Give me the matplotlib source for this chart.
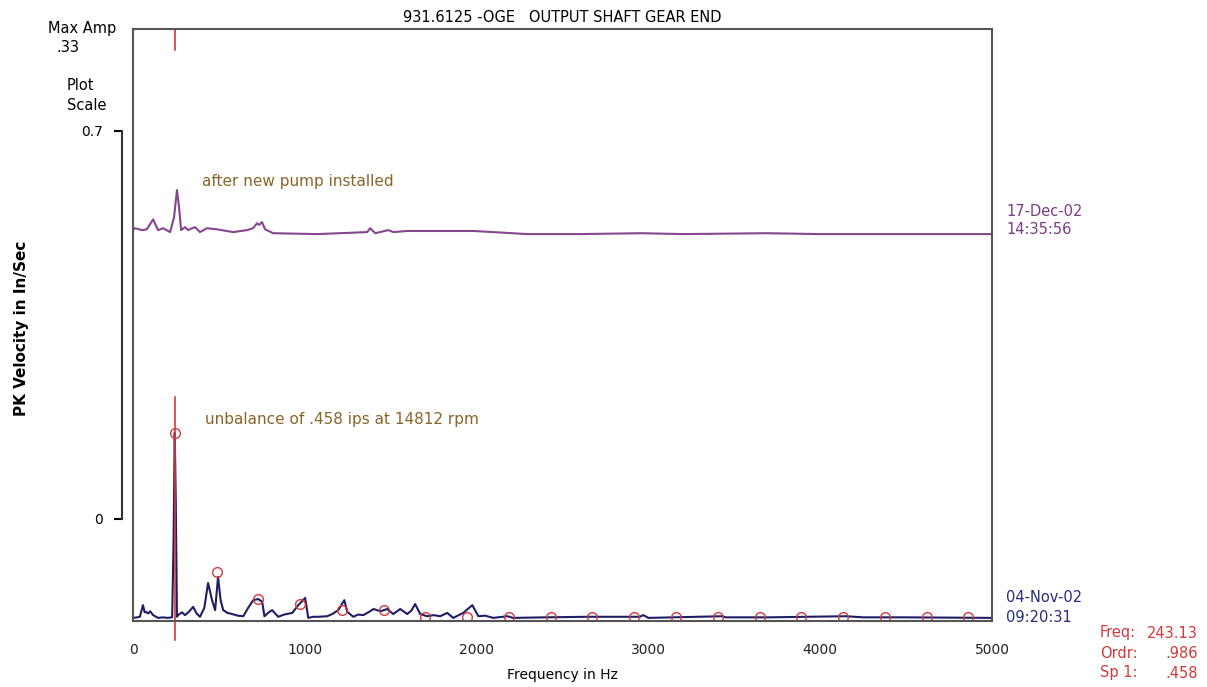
import numpy as np
import matplotlib
matplotlib.use("Agg")
import matplotlib.pyplot as plt

plt.rcParams['font.family'] = ['DejaVu Sans']

# spectrum taken 04-Nov-02 (before) -- frequency in Hz, PK velocity in in/sec
freq_before = [0, 25, 40, 58, 68, 75, 88, 100, 117, 146, 175, 200, 228, 236, 243, 249, 256, 262,
               285, 303, 325, 350, 370, 390, 415, 437, 460, 478, 495, 510, 525, 550, 577, 610,
               642, 670, 700, 729, 752, 765, 790, 810, 845, 880, 927, 962, 1002, 1020, 1050,
               1080, 1130, 1160, 1195, 1230, 1247, 1282, 1310, 1340, 1370, 1400, 1440, 1480,
               1515, 1555, 1596, 1620, 1642, 1672, 1712, 1750, 1788, 1829, 1864, 1922, 1975,
               2010, 2050, 2097, 2178, 2213, 2400, 2650, 2950, 2970, 3000, 3430, 3450, 3700,
               4150, 4250, 4500, 5000]
amp_before = [0.002, 0.003, 0.004, 0.025, 0.012, 0.013, 0.010, 0.014, 0.007, 0.002, 0.003,
              0.002, 0.003, 0.14, 0.336, 0.21, 0.004, 0.007, 0.012, 0.007, 0.013, 0.022, 0.010,
              0.004, 0.020, 0.065, 0.034, 0.016, 0.076, 0.034, 0.016, 0.011, 0.009, 0.006,
              0.005, 0.020, 0.034, 0.036, 0.031, 0.005, 0.012, 0.016, 0.004, 0.008, 0.011,
              0.025, 0.038, 0.002, 0.004, 0.004, 0.005, 0.009, 0.016, 0.034, 0.013, 0.004,
              0.008, 0.007, 0.012, 0.018, 0.014, 0.018, 0.009, 0.018, 0.009, 0.015, 0.027,
              0.009, 0.005, 0.007, 0.005, 0.011, 0.002, 0.011, 0.025, 0.005, 0.006, 0.002,
              0.005, 0.002, 0.003, 0.004, 0.004, 0.007, 0.002, 0.005, 0.003, 0.003, 0.005,
              0.003, 0.003, 0.002]

# spectrum taken 17-Dec-02 (after new pump installed)
freq_after = [0, 12, 52, 80, 117, 146, 175, 216, 239, 256, 268, 280, 303, 320, 361, 390, 431,
              489, 583, 664, 699, 722, 734, 751, 769, 816, 1072, 1363, 1380, 1410, 1486, 1515,
              1596, 1742, 1981, 2097, 2295, 2600, 2960, 3200, 3690, 4000, 5000]
amp_after = [0.0086, 0.012, 0.0086, 0.010, 0.028, 0.0086, 0.012, 0.005, 0.032, 0.081, 0.050,
             0.0086, 0.014, 0.0086, 0.014, 0.005, 0.012, 0.010, 0.005, 0.0086, 0.012, 0.021,
             0.018, 0.023, 0.010, 0.003, 0.0014, 0.005, 0.012, 0.003, 0.0086, 0.005, 0.007,
             0.007, 0.007, 0.005, 0.0014, 0.0014, 0.003, 0.0014, 0.003, 0.0014, 0.0014]

# running speed harmonics marked on the lower spectrum
run_speed = 243.13
harmonic_amp = [0.336, 0.085, 0.036, 0.027, 0.016, 0.016, 0.004, 0.004, 0.004, 0.004,
                0.004, 0.004, 0.004, 0.004, 0.004, 0.004, 0.004, 0.004, 0.004, 0.004]
harmonic_freq = [run_speed * (i + 1) for i in range(len(harmonic_amp))]

plot_scale = 0.7      # scale bar length
trace_offset = 0.693  # vertical offset of the later spectrum

W, H = 1207, 687
fig = plt.figure(figsize=(W / 100, H / 100), dpi=100)

def px(x, y):
    return x / W, 1 - y / H

ax = fig.add_axes([133 / W, 1 - 621 / H, (992 - 133) / W, (621 - 29) / H])
ax.set_xlim(0, 5000)
ax.set_ylim(-0.0036, 1.0644)

c_before = '#1e1e66'
c_after = '#86468e'
c_red = '#d23a3a'

ax.plot(freq_after, np.array(amp_after) + trace_offset, color=c_after, lw=1.5)
ax.plot(freq_before, amp_before, color=c_before, lw=1.5)
ax.plot(harmonic_freq, harmonic_amp, 'o', mfc='none', mec=c_red, ms=7, mew=1)

# cursor at running speed
ax.plot([run_speed, run_speed], [-0.038, 0.40], color=c_red, lw=1.2, clip_on=False)
ax.plot([run_speed, run_speed], [1.0265, 1.0644], color=c_red, lw=1.2, clip_on=False)

ax.set_xticks([0, 1000, 2000, 3000, 4000, 5000])
ax.tick_params(axis='x', length=0, pad=16, labelsize=10, colors='#222222')
ax.set_yticks([])
for s in ax.spines.values():
    s.set_color('#555555')
    s.set_linewidth(1.5)

ax.set_xlabel('Frequency in Hz', fontsize=10, labelpad=8)
ax.set_title('931.6125 -OGE   OUTPUT SHAFT GEAR END', fontsize=10.5, pad=5)

ax.text(400, 0.79, 'after new pump installed', color='#8a6428', fontsize=11, va='center')
ax.text(420, 0.36, 'unbalance of .458 ips at 14812 rpm', color='#8a6428', fontsize=11,
        va='center')

# plot scale bar
sax = fig.add_axes([122 / W, 1 - 519 / H, 0.0001, (519 - 131) / H])
sax.set_ylim(0, plot_scale)
sax.set_yticks([0, plot_scale])
sax.set_yticklabels(['0', '0.7'])
sax.set_xticks([])
for k in ['top', 'right', 'bottom']:
    sax.spines[k].set_visible(False)
sax.spines['left'].set_linewidth(1.5)
sax.spines['left'].set_color('#333333')
sax.tick_params(axis='y', length=6, width=1.5, pad=8, labelsize=10)

fig.text(*px(22, 328), 'PK Velocity in In/Sec', rotation=90, fontsize=11,
         fontweight='bold', ha='center', va='center')
fig.text(*px(48, 29), 'Max Amp', fontsize=10.5, va='center')
fig.text(*px(56, 47), '.33', fontsize=10.5, va='center')
fig.text(*px(67, 86), 'Plot', fontsize=10.5, va='center')
fig.text(*px(67, 105), 'Scale', fontsize=10.5, va='center')

fig.text(*px(1006, 212), '17-Dec-02', color='#7a3a86', fontsize=10.5, va='center')
fig.text(*px(1006, 230), '14:35:56', color='#7a3a86', fontsize=10.5, va='center')
fig.text(*px(1006, 598), '04-Nov-02', color='#2a2a80', fontsize=10.5, va='center')
fig.text(*px(1006, 617), '09:20:31', color='#2a2a80', fontsize=10.5, va='center')

for y, lab, val in [(633, 'Freq:', '243.13'), (654, 'Ordr:', '.986'), (673, 'Sp 1:', '.458')]:
    fig.text(*px(1100, y), lab, color=c_red, fontsize=10.5, va='center')
    fig.text(*px(1198, y), val, color=c_red, fontsize=10.5, va='center', ha='right')

fig.savefig('out.png', dpi=100)
